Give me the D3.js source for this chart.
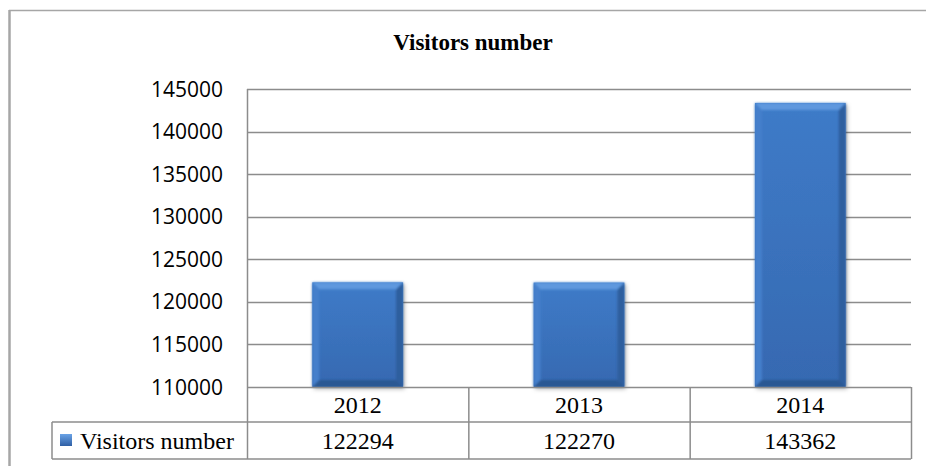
<!DOCTYPE html>
<html>
<head>
<meta charset="utf-8">
<script src="https://cdn.jsdelivr.net/npm/d3@7"></script>
<style>
  body { margin: 0; background: #fff; }
  #chart { width: 926px; height: 466px; }
</style>
</head>
<body>
<div id="chart"></div>
<script>
// data
var years = ["2012", "2013", "2014"];
var visitors = [122294, 122270, 143362];
var seriesName = "Visitors number";
var yTicks = [110000, 115000, 120000, 125000, 130000, 135000, 140000, 145000];

(function() {
var width = 926, height = 466;
var svg = d3.select("#chart").append("svg")
    .attr("width", width)
    .attr("height", height);

var defs = svg.append("defs");
var grad = defs.append("linearGradient").attr("id", "barFill")
    .attr("x1", 0).attr("y1", 0).attr("x2", 0).attr("y2", 1);
grad.append("stop").attr("offset", "0%").attr("stop-color", "#3e7bc8");
grad.append("stop").attr("offset", "100%").attr("stop-color", "#3669b1");

var shadow = defs.append("filter").attr("id", "shadow")
    .attr("x", "-10%").attr("y", "-10%").attr("width", "130%").attr("height", "130%");
shadow.append("feDropShadow").attr("dx", 1.5).attr("dy", 2).attr("stdDeviation", 2)
    .attr("flood-color", "#000").attr("flood-opacity", 0.3);

var blur = defs.append("filter").attr("id", "soft");
blur.append("feGaussianBlur").attr("stdDeviation", 1);

var legGrad = defs.append("linearGradient").attr("id", "legFill")
    .attr("x1", 0).attr("y1", 0).attr("x2", 0).attr("y2", 1);
legGrad.append("stop").attr("offset", "0%").attr("stop-color", "#6aa3e6");
legGrad.append("stop").attr("offset", "100%").attr("stop-color", "#2f5fa4");

// outer frame
svg.append("line").attr("x1", 9).attr("x2", width).attr("y1", 10.5).attr("y2", 10.5)
    .attr("stroke", "#a6a6a6").attr("stroke-width", 1.5);
svg.append("line").attr("x1", 9.5).attr("x2", 9.5).attr("y1", 10).attr("y2", height)
    .attr("stroke", "#a6a6a6").attr("stroke-width", 2.5);

// title
svg.append("text")
    .attr("x", 473).attr("y", 50)
    .attr("text-anchor", "middle")
    .style("font-family", "'Liberation Serif', 'Times New Roman', serif")
    .style("font-weight", "bold")
    .style("font-size", "23px")
    .text(seriesName);

var plotLeft = 247, plotRight = 911, plotTop = 89, plotBottom = 387;

var y = d3.scaleLinear().domain([110000, 145000]).range([plotBottom, plotTop]);
var x = d3.scaleBand().domain(years).range([plotLeft, plotRight])
    .paddingInner(0.59).paddingOuter(0.295);

var lineColor = "#8c8c8c";

// gridlines
svg.selectAll(".grid")
    .data(yTicks.slice(1))
    .enter().append("line")
    .attr("class", "grid")
    .attr("x1", plotLeft).attr("x2", plotRight)
    .attr("y1", function(d) { return Math.round(y(d)) + 0.5; })
    .attr("y2", function(d) { return Math.round(y(d)) + 0.5; })
    .attr("stroke", lineColor).attr("stroke-width", 1.5);

// y labels
svg.selectAll(".ylab")
    .data(yTicks)
    .enter().append("text")
    .attr("class", "ylab")
    .attr("x", 223)
    .attr("y", function(d) { return y(d) + 7.5; })
    .attr("text-anchor", "end")
    .style("font-family", "'Open Sans', 'Liberation Sans', sans-serif")
    .style("font-size", "21px")
    .attr("fill", "#000")
    .text(function(d) { return d; });

// y axis line
svg.append("line").attr("x1", plotLeft + 0.5).attr("x2", plotLeft + 0.5)
    .attr("y1", plotTop).attr("y2", plotBottom)
    .attr("stroke", lineColor).attr("stroke-width", 1.5);

// bars with soft bevel
var bev = 7;
var bars = svg.selectAll(".bar")
    .data(years)
    .enter().append("g")
    .attr("class", "bar");

bars.append("rect")
    .attr("x", function(d) { return x(d); })
    .attr("y", function(d, i) { return y(visitors[i]); })
    .attr("width", x.bandwidth())
    .attr("height", function(d, i) { return plotBottom - y(visitors[i]); })
    .attr("fill", "url(#barFill)")
    .attr("filter", "url(#shadow)");

function bevelPath(side) {
    return function(d, i) {
        var x0 = x(d), x1 = x(d) + x.bandwidth();
        var y0 = y(visitors[i]), y1 = plotBottom;
        var pts;
        if (side === "top") pts = [[x0, y0], [x1, y0], [x1 - bev, y0 + bev], [x0 + bev, y0 + bev]];
        if (side === "left") pts = [[x0, y0], [x0 + bev, y0 + bev], [x0 + bev, y1 - bev], [x0, y1]];
        if (side === "right") pts = [[x1, y0], [x1, y1], [x1 - bev, y1 - bev], [x1 - bev, y0 + bev]];
        if (side === "bottom") pts = [[x0, y1], [x0 + bev, y1 - bev], [x1 - bev, y1 - bev], [x1, y1]];
        return "M" + pts.join("L") + "Z";
    };
}
var bevels = bars.append("g").attr("filter", "url(#soft)");
bevels.append("path").attr("d", bevelPath("left")).attr("fill", "#447fcb");
bevels.append("path").attr("d", bevelPath("right")).attr("fill", "#2f5e9e");
bevels.append("path").attr("d", bevelPath("bottom")).attr("fill", "#2c5893");
bevels.append("path").attr("d", bevelPath("top")).attr("fill", "#5e98de");

// data table
var step = x.step();
var row1 = plotBottom, row2 = 422, row3 = 459;
var tableLeft = 52;
var g = svg.append("g").attr("stroke", lineColor).attr("stroke-width", 1.5);

g.append("line").attr("x1", plotLeft).attr("x2", plotRight).attr("y1", row1 + 0.5).attr("y2", row1 + 0.5);
g.append("line").attr("x1", tableLeft).attr("x2", plotRight).attr("y1", row2).attr("y2", row2);
g.append("line").attr("x1", tableLeft).attr("x2", plotRight).attr("y1", row3).attr("y2", row3);
g.append("line").attr("x1", tableLeft).attr("x2", tableLeft).attr("y1", row2).attr("y2", row3);
g.selectAll(".vline")
    .data(d3.range(years.length + 1))
    .enter().append("line")
    .attr("x1", function(i) { return plotLeft + 0.5 + i * step; })
    .attr("x2", function(i) { return plotLeft + 0.5 + i * step; })
    .attr("y1", row1).attr("y2", row3);

var cellFont = "'Liberation Serif', 'Times New Roman', serif";
svg.selectAll(".yearLab")
    .data(years)
    .enter().append("text")
    .attr("x", function(d) { return x(d) + x.bandwidth() / 2; })
    .attr("y", 413)
    .attr("text-anchor", "middle")
    .style("font-family", cellFont)
    .style("font-size", "24px")
    .text(function(d) { return d; });

svg.selectAll(".valLab")
    .data(visitors)
    .enter().append("text")
    .attr("x", function(d, i) { return x(years[i]) + x.bandwidth() / 2; })
    .attr("y", 449)
    .attr("text-anchor", "middle")
    .style("font-family", cellFont)
    .style("font-size", "24px")
    .text(function(d) { return d; });

// legend key
svg.append("rect")
    .attr("x", 60).attr("y", 434)
    .attr("width", 12).attr("height", 12)
    .attr("fill", "url(#legFill)");
svg.append("text")
    .attr("x", 80).attr("y", 449)
    .style("font-family", cellFont)
    .style("font-size", "24px")
    .text(seriesName);
})();
</script>
</body>
</html>
